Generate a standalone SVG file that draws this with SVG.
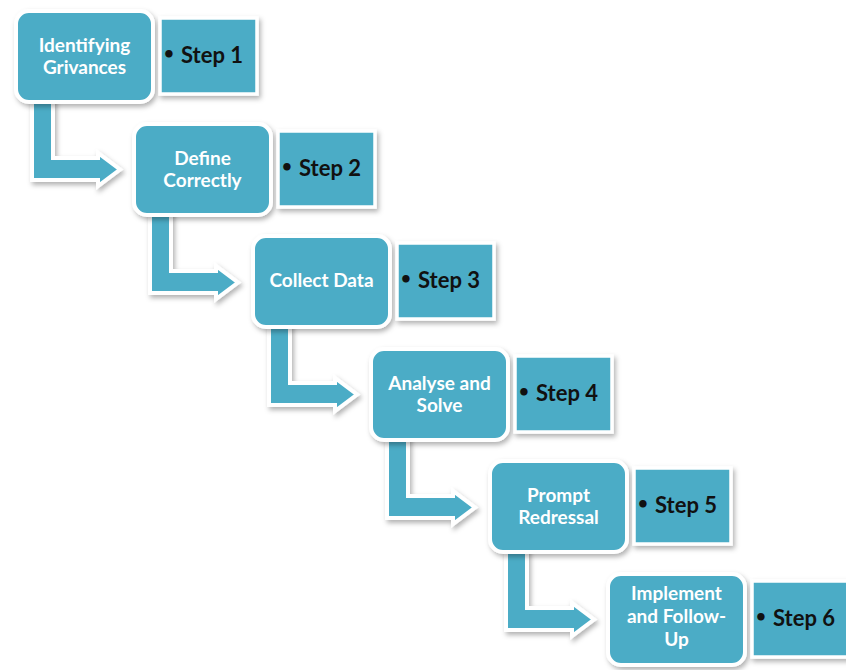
<svg xmlns="http://www.w3.org/2000/svg" width="846" height="670" viewBox="0 0 846 670">
<defs>
<filter id="sh" x="-20%" y="-20%" width="140%" height="140%">
<feDropShadow dx="2" dy="3" stdDeviation="2.5" flood-color="#000" flood-opacity="0.3"/>
</filter>
<path id="arr" d="M16,86 L37,86 L37,147 L82,147 L82,142 L104,158.5 L82,175 L82,169 L16,169 Z"/>
</defs>
<style>
.node{fill:#4BACC6;stroke:#fff;stroke-width:4;filter:url(#sh)}
.step{fill:#4BACC6;stroke:#fff;stroke-width:3.5;filter:url(#sh)}
.arrow{fill:#4BACC6;stroke:#fff;stroke-width:4;stroke-linejoin:miter;filter:url(#sh)}
.nt{font-family:Lato,"Open Sans",sans-serif;font-weight:bold;font-size:19px;fill:#fff;text-anchor:middle}
.st{font-family:Lato,"Open Sans",sans-serif;font-weight:bold;font-size:22px;fill:#111}
.b{font-size:17px}
</style>
<rect width="846" height="670" fill="#fff"/>
<g id="connectors">
<use href="#arr" class="arrow" transform="translate(16,11)"/>
<use href="#arr" class="arrow" transform="translate(134,124)"/>
<use href="#arr" class="arrow" transform="translate(253,236)"/>
<use href="#arr" class="arrow" transform="translate(371,349)"/>
<use href="#arr" class="arrow" transform="translate(490,461)"/>
</g>
<g id="node1" transform="translate(16,11)">
<rect class="node" x="0" y="0" width="137" height="91" rx="13"/>
<text class="nt" x="68.5" y="41">Identifying</text>
<text class="nt" x="68.5" y="63">Grivances</text>
<rect class="step" x="144" y="7" width="97" height="76"/>
<text class="st" x="148" y="52"><tspan class="b" dy="-4">•</tspan><tspan dy="4" x="165">Step 1</tspan></text>
</g>
<g id="node2" transform="translate(134,124)">
<rect class="node" x="0" y="0" width="137" height="91" rx="13"/>
<text class="nt" x="68.5" y="41">Define</text>
<text class="nt" x="68.5" y="63">Correctly</text>
<rect class="step" x="144" y="7" width="97" height="76"/>
<text class="st" x="148" y="52"><tspan class="b" dy="-4">•</tspan><tspan dy="4" x="165">Step 2</tspan></text>
</g>
<g id="node3" transform="translate(253,236)">
<rect class="node" x="0" y="0" width="137" height="91" rx="13"/>
<text class="nt" x="68.5" y="51">Collect Data</text>
<rect class="step" x="144" y="7" width="97" height="76"/>
<text class="st" x="148" y="52"><tspan class="b" dy="-4">•</tspan><tspan dy="4" x="165">Step 3</tspan></text>
</g>
<g id="node4" transform="translate(371,349)">
<rect class="node" x="0" y="0" width="137" height="91" rx="13"/>
<text class="nt" x="68.5" y="41">Analyse and</text>
<text class="nt" x="68.5" y="63">Solve</text>
<rect class="step" x="144" y="7" width="97" height="76"/>
<text class="st" x="148" y="52"><tspan class="b" dy="-4">•</tspan><tspan dy="4" x="165">Step 4</tspan></text>
</g>
<g id="node5" transform="translate(490,461)">
<rect class="node" x="0" y="0" width="137" height="91" rx="13"/>
<text class="nt" x="68.5" y="41">Prompt</text>
<text class="nt" x="68.5" y="63">Redressal</text>
<rect class="step" x="144" y="7" width="97" height="76"/>
<text class="st" x="148" y="52"><tspan class="b" dy="-4">•</tspan><tspan dy="4" x="165">Step 5</tspan></text>
</g>
<g id="node6" transform="translate(608,574)">
<rect class="node" x="0" y="0" width="137" height="91" rx="13"/>
<text class="nt" x="68.5" y="26">Implement</text>
<text class="nt" x="68.5" y="49">and Follow-</text>
<text class="nt" x="68.5" y="72">Up</text>
<rect class="step" x="144" y="7" width="97" height="76"/>
<text class="st" x="148" y="52"><tspan class="b" dy="-4">•</tspan><tspan dy="4" x="165">Step 6</tspan></text>
</g>
</svg>
